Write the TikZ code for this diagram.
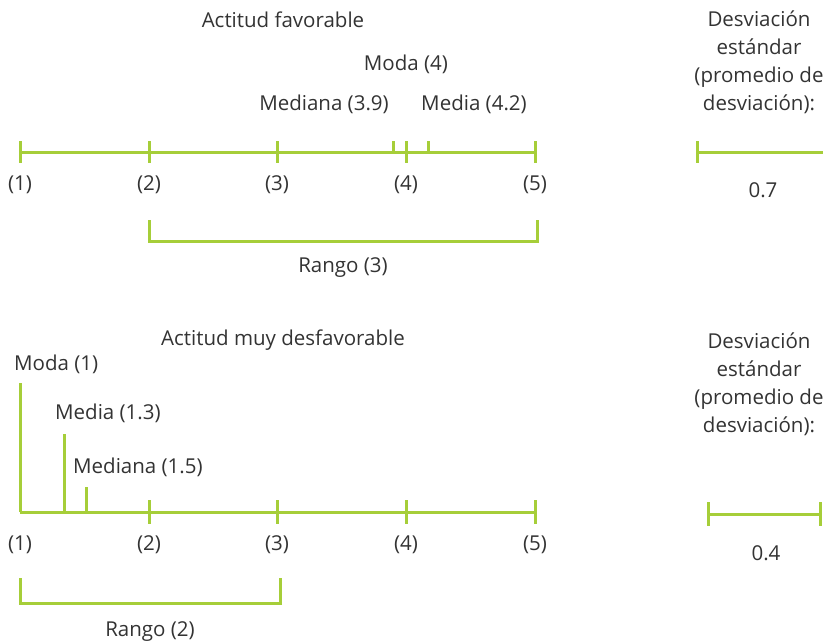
\documentclass[tikz,border=0pt]{standalone}
\usepackage{fontspec}
\setmainfont{Open Sans}
\usepackage{xcolor}
\usepackage{tikz}
\definecolor{lima}{HTML}{A6CE39}
\definecolor{texto}{HTML}{333333}

\begin{document}
\begin{tikzpicture}[x=1pt,y=-1pt,
    eje/.style={lima,line width=3pt},
    txt/.style={text=texto,font=\fontsize{20.5}{28}\selectfont,inner sep=0pt}]
    \useasboundingbox (0,0) rectangle (823,643);
    % actitud favorable
    \node[txt] (tit1) at (283,20) {Actitud favorable};
    \coordinate (ini1) at (20,152);
    \coordinate (fin1) at (535,152);
    \draw[eje] (ini1) -- (fin1);
    \foreach \x/\n in {20/1,149/2,277/3,406/4,535/5} {
        \draw[eje] (\x,141) -- (\x,163);
        \node[txt] (e1\n) at (\x,185) {(\n)};
    }
    \coordinate (med1) at (393,152);
    \coordinate (mda1) at (428,152);
    \draw[eje] (med1) -- ++(0,-11);
    \draw[eje] (mda1) -- ++(0,-11);
    \node[txt] (mediana1) at (324,104) {Mediana (3.9)};
    \node[txt] (media1) at (474,104) {Media (4.2)};
    \node[txt] (moda1) at (406,64) {Moda (4)};
    \coordinate (r1a) at (149,220);
    \coordinate (r1b) at (537,220);
    \draw[eje] (r1a) |- (343,241) -| (r1b);
    \node[txt] (rango1) at (343,268) {Rango (3)};
    \node[txt,align=center] (desv1) at (759,62) {Desviación\\estándar\\(promedio de\\desviación):};
    \coordinate (d1a) at (697,152);
    \coordinate (d1b) at (830,152);
    \draw[eje] (697,141) -- (697,163);
    \draw[eje] (d1a) -- (d1b);
    \node[txt] (sd1) at (763,190) {0.7};
    % actitud muy desfavorable
    \node[txt] (tit2) at (283,340) {Actitud muy desfavorable};
    \coordinate (ini2) at (20,512);
    \coordinate (fin2) at (535,512);
    \draw[eje] (ini2) -- (fin2);
    \foreach \x/\n in {149/2,277/3,406/4,535/5}
        \draw[eje] (\x,500) -- (\x,524);
    \foreach \x/\n in {20/1,149/2,277/3,406/4,535/5}
        \node[txt] (e2\n) at (\x,545) {(\n)};
    \draw[eje] (ini2) -- ++(0,-129);
    \draw[eje] (64,512) -- (64,434);
    \draw[eje] (86,512) -- (86,487);
    \node[txt,anchor=west] (moda2) at (14,364) {Moda (1)};
    \node[txt,anchor=west] (media2) at (55,413) {Media (1.3)};
    \node[txt,anchor=west] (mediana2) at (73,467) {Mediana (1.5)};
    \coordinate (r2a) at (20,578);
    \coordinate (r2b) at (280,578);
    \draw[eje] (r2a) |- (150,603) -| (r2b);
    \node[txt] (rango2) at (150,632) {Rango (2)};
    \node[txt,align=center] (desv2) at (759,384) {Desviación\\estándar\\(promedio de\\desviación):};
    \coordinate (d2a) at (708,514);
    \coordinate (d2b) at (820,514);
    \draw[eje] (d2a) -- (d2b);
    \draw[eje] (708,502) -- (708,526);
    \draw[eje] (820,502) -- (820,526);
    \node[txt] (sd2) at (766,553) {0.4};
\end{tikzpicture}
\end{document}
